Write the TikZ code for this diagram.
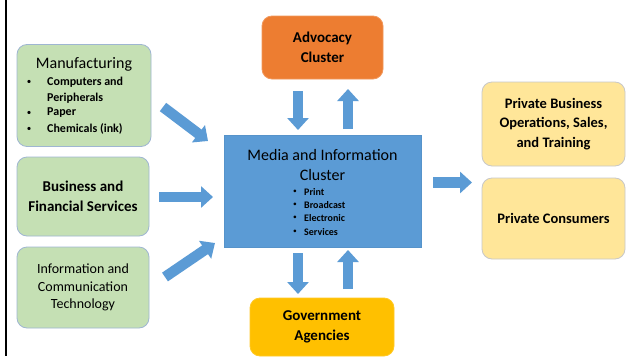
\documentclass[tikz,border=0pt]{standalone}
\usepackage{fontspec}
\setmainfont{Carlito}
\usetikzlibrary{arrows.meta}
\definecolor{gfill}{HTML}{C5E0B4}
\definecolor{gline}{HTML}{9FB6D2}
\definecolor{ofill}{HTML}{ED7D31}
\definecolor{bfill}{HTML}{5B9BD5}
\definecolor{yfill}{HTML}{FFC000}
\definecolor{pfill}{HTML}{FFE699}
\definecolor{pline}{HTML}{C8C8C8}
\begin{document}
\begin{tikzpicture}[x=1pt,y=-1pt,
  box/.style={rounded corners=10pt, line width=0.8pt, inner sep=0pt},
  gbox/.style={box, fill=gfill, draw=gline},
  obox/.style={box, fill=ofill, draw=ofill!80!white},
  cbox/.style={inner sep=0pt, fill=bfill, draw=bfill!95!black, line width=0.5pt},
  ybox/.style={box, fill=yfill, draw=yfill!85!white},
  pbox/.style={box, fill=pfill, draw=pline},
  ttl/.style={align=center, font=\fontsize{15}{19.5}\selectfont\bfseries},
  rtl/.style={align=center, font=\fontsize{16}{20}\selectfont},
  bul/.style={anchor=west, inner sep=0pt, font=\fontsize{12}{14}\selectfont\bfseries},
  dot/.style={inner sep=0pt, font=\fontsize{9}{10}\selectfont},
  sbul/.style={anchor=west, inner sep=0pt, font=\fontsize{10}{12}\selectfont\bfseries},
  sdot/.style={inner sep=0pt, font=\fontsize{7.5}{9}\selectfont},
  barrow/.style={draw=bfill, line width=10.5pt, -{Triangle[length=12pt,width=21pt]}}
]
\useasboundingbox (0,0) rectangle (626,356);
\fill[white] (0,0) rectangle (626,356);
\coordinate (lt) at (6,0);
\coordinate (lb) at (6,356);
\draw[line width=2pt, black] (lt) -- (lb);

% left boxes
\node[gbox, minimum width=134, minimum height=102] (manu) at (84,95.5) {};
\node[rtl] (manut) at (84,64) {Manufacturing};
\node[dot] (mb1) at (29,82) {•};
\node[bul] (mt1) at (47,82) {Computers and};
\node[bul] (mt1b) at (47,98) {Peripherals};
\node[dot] (mb2) at (29,113) {•};
\node[bul] (mt2) at (47,113) {Paper};
\node[dot] (mb3) at (29,129) {•};
\node[bul] (mt3) at (47,129) {Chemicals (ink)};

\node[gbox, minimum width=132, minimum height=79, ttl] (bfs) at (83,196.5) {Business and\\Financial Services};
\node[gbox, minimum width=132, minimum height=81, align=center, font=\fontsize{14}{17.5}\selectfont] (ict) at (83,287.5) {Information and\\Communication\\Technology};

% top and bottom
\node[obox, minimum width=121, minimum height=63, ttl] (adv) at (322.5,47.5) {Advocacy\\Cluster};
\node[ybox, minimum width=144, minimum height=58, ttl] (gov) at (322,327) {Government\\Agencies};

% center
\node[cbox, minimum width=197, minimum height=112] (media) at (322.5,191) {};
\node[rtl] (mediat) at (322.5,165) {Media and Information\\Cluster};
\node[sdot] (c1b) at (295,192) {•};
\node[sbul] (c1) at (304,192) {Print};
\node[sdot] (c2b) at (295,205) {•};
\node[sbul] (c2) at (304,205) {Broadcast};
\node[sdot] (c3b) at (295,218) {•};
\node[sbul] (c3) at (304,218) {Electronic};
\node[sdot] (c4b) at (295,232) {•};
\node[sbul] (c4) at (304,232) {Services};

% right
\node[pbox, minimum width=143, minimum height=84, font=\fontsize{14.5}{19.5}\selectfont\bfseries, align=center] (pbo) at (553.5,124) {Private Business\\Operations, Sales,\\and Training};
\node[pbox, minimum width=143, minimum height=81, font=\fontsize{14.5}{19.5}\selectfont\bfseries] (pc) at (553.5,218.5) {Private Consumers};

% arrow coordinates
\coordinate (a1s) at (163,107);
\coordinate (a1e) at (208,141);
\coordinate (a2s) at (159,197);
\coordinate (a2e) at (213,197);
\coordinate (a3s) at (165,277);
\coordinate (a3e) at (215,243);
\coordinate (a4s) at (433,182.5);
\coordinate (a4e) at (472,182.5);
\coordinate (a5s) at (298,91);
\coordinate (a5e) at (298,130);
\coordinate (a6s) at (348,129);
\coordinate (a6e) at (348,89);
\coordinate (a7s) at (298,253);
\coordinate (a7e) at (298,294);
\coordinate (a8s) at (348,289);
\coordinate (a8e) at (348,250);

\draw[barrow] (a1s) -- (a1e);
\draw[barrow] (a2s) -- (a2e);
\draw[barrow] (a3s) -- (a3e);
\draw[barrow] (a4s) -- (a4e);
\draw[barrow] (a5s) -- (a5e);
\draw[barrow] (a6s) -- (a6e);
\draw[barrow] (a7s) -- (a7e);
\draw[barrow] (a8s) -- (a8e);
\end{tikzpicture}
\end{document}
